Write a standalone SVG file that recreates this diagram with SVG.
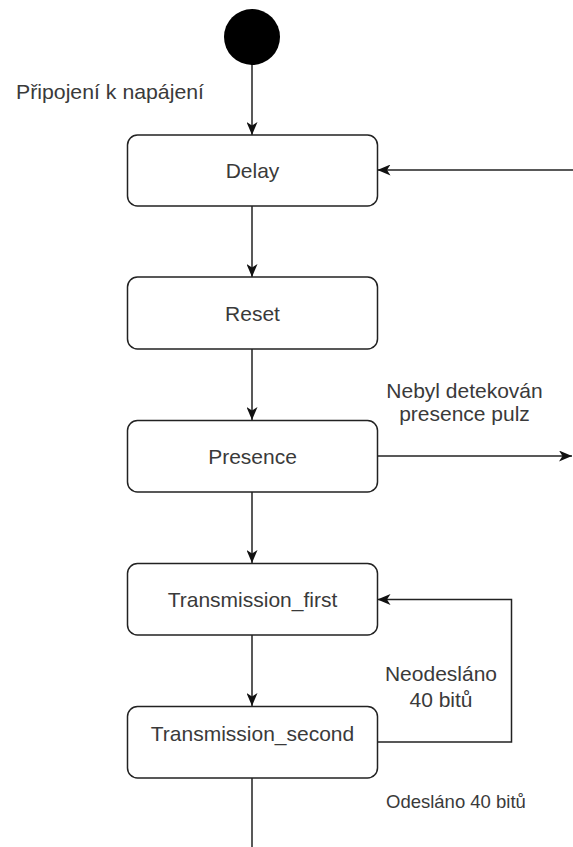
<svg xmlns="http://www.w3.org/2000/svg" width="573" height="847" viewBox="0 0 573 847">
<style>
.box{fill:#fff;stroke:#222;stroke-width:1.5}
.lbl{font-family:"Liberation Sans",Arial,sans-serif;font-size:21px;fill:#3a3a3a;text-anchor:middle}
.elbl{font-family:"Liberation Sans",Arial,sans-serif;font-size:21px;fill:#3a3a3a}
.edge{fill:none;stroke:#222;stroke-width:1.5}
</style>
<defs>
<marker id="arr" markerUnits="userSpaceOnUse" viewBox="0 0 13 11" refX="13" refY="5.5" markerWidth="13" markerHeight="11" orient="auto">
<path d="M0,0 L13,5.5 L0,11 L3.5,5.5 Z" fill="#111"/>
</marker>
</defs>
<g id="connectors">
<path class="edge" d="M252,64 L252,135" marker-end="url(#arr)"/>
<path class="edge" d="M252,206 L252,277" marker-end="url(#arr)"/>
<path class="edge" d="M252,349 L252,420" marker-end="url(#arr)"/>
<path class="edge" d="M252,492 L252,563" marker-end="url(#arr)"/>
<path class="edge" d="M252,635 L252,706" marker-end="url(#arr)"/>
<path class="edge" d="M252,778 L252,847"/>
<path class="edge" d="M573,170 L377.5,170" marker-end="url(#arr)"/>
<path class="edge" d="M377.5,456 L572,456" marker-end="url(#arr)"/>
<path class="edge" d="M377.5,742 L511.5,742 L511.5,599.5 L377.5,599.5" marker-end="url(#arr)"/>
<text class="elbl" x="16" y="99" textLength="188" lengthAdjust="spacingAndGlyphs">Připojení k napájení</text>
<text class="lbl" x="464.5" y="398">Nebyl detekován</text>
<text class="lbl" x="464.5" y="421">presence pulz</text>
<text class="lbl" x="441" y="681">Neodesláno</text>
<text class="lbl" x="441" y="707">40 bitů</text>
<text class="elbl" x="386" y="808" style="font-size:18.5px">Odesláno 40 bitů</text>
</g>
<g id="start"><circle cx="252" cy="37" r="28" fill="#000"/></g>
<g id="delay"><rect class="box" x="127.5" y="135" width="250" height="71" rx="10"/><text class="lbl" x="252.5" y="178">Delay</text></g>
<g id="reset"><rect class="box" x="127.5" y="277" width="250" height="72" rx="10"/><text class="lbl" x="252.5" y="320.5">Reset</text></g>
<g id="presence"><rect class="box" x="127.5" y="420.5" width="250" height="71.5" rx="10"/><text class="lbl" x="252.5" y="464">Presence</text></g>
<g id="transmission_first"><rect class="box" x="127.5" y="563.5" width="250" height="71.5" rx="10"/><text class="lbl" x="252.5" y="607">Transmission_first</text></g>
<g id="transmission_second"><rect class="box" x="127.5" y="706.5" width="250" height="71.5" rx="10"/><text class="lbl" x="252.5" y="740.5">Transmission_second</text></g>
</svg>
